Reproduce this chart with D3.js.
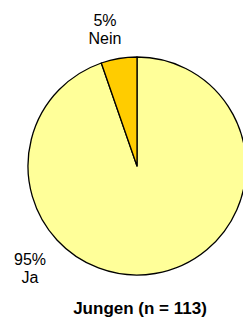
<!DOCTYPE html>
<html>
<head>
<meta charset="utf-8">
<script src="https://cdn.jsdelivr.net/npm/d3@7"></script>
<style>
  body { margin: 0; background: #fff; }
  text { font-family: "Liberation Sans", Arial, sans-serif; fill: #000; }
</style>
</head>
<body>
<div class="pie-chart"></div>
<script>
// data
var categories = ["Ja", "Nein"];
var counts = [107, 6];
var percentLabels = ["95%", "5%"];
var colors = ["#FFFF99", "#FFCC00"];
var title = "Jungen (n = 113)";

var width = 243, height = 320;
var cx = 137, cy = 166, radius = 109;

var svg = d3.select(".pie-chart").append("svg")
    .attr("width", width)
    .attr("height", height);

var data = categories.map(function (c, i) {
    return {name: c, value: counts[i], pct: percentLabels[i], color: colors[i]};
});

// slices clockwise from 12 o'clock, Ja first so Nein ends at the top
var pie = d3.pie()
    .sort(null)
    .value(function (d) { return d.value; });

var arc = d3.arc()
    .innerRadius(0)
    .outerRadius(radius);

var g = svg.append("g")
    .attr("transform", "translate(" + cx + "," + cy + ")");

g.selectAll("path")
    .data(pie(data))
    .enter().append("path")
    .attr("d", arc)
    .style("fill", function (d) { return d.data.color; })
    .style("stroke", "#000")
    .style("stroke-width", 1.3)
    .style("stroke-linejoin", "round");

// labels (outside the pie)
var labelPos = {
    "Nein": [105, 26],
    "Ja": [30, 265]
};

data.forEach(function (d) {
    var p = labelPos[d.name];
    var t = svg.append("text")
        .attr("x", p[0])
        .attr("y", p[1])
        .style("font-size", "16px")
        .style("text-anchor", "middle");
    t.append("tspan").attr("x", p[0]).text(d.pct);
    t.append("tspan").attr("x", p[0]).attr("dy", 18).text(d.name);
});

// title
svg.append("text")
    .attr("x", 140)
    .attr("y", 314)
    .style("font-size", "17px")
    .style("font-weight", "bold")
    .style("text-anchor", "middle")
    .text(title);
</script>
</body>
</html>
